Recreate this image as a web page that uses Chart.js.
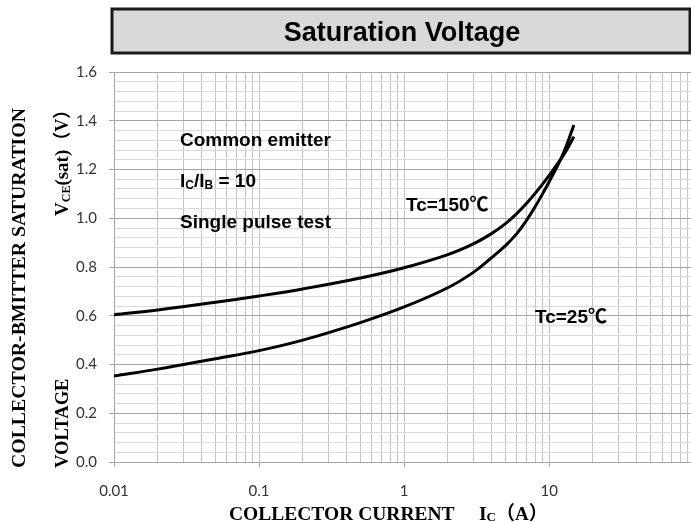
<!DOCTYPE html>
<html>
<head>
<meta charset="utf-8">
<script src="https://cdn.jsdelivr.net/npm/chart.js@4.4.1/dist/chart.umd.min.js"></script>
<style>
  body { margin: 0; background: #fff; }
  #wrap { width: 691px; height: 522px; }
</style>
</head>
<body>
<div id="wrap"><canvas id="myChart"></canvas></div>
<script>
// collector current (A) and VCE(sat) (V)
const currents = [0.01, 0.02, 0.05, 0.1, 0.2, 0.5, 1, 2, 3, 4, 5, 6, 7, 8, 9, 10, 11.8, 13.2, 14.8];
const vce150 = [0.604, 0.624, 0.655, 0.681, 0.710, 0.755, 0.797, 0.851, 0.895, 0.937, 0.978, 1.020, 1.062, 1.102, 1.140, 1.176, 1.235, 1.280, 1.335];
const vce25 = [0.353, 0.381, 0.424, 0.457, 0.500, 0.572, 0.636, 0.715, 0.778, 0.838, 0.888, 0.938, 0.992, 1.047, 1.100, 1.150, 1.232, 1.300, 1.383];
const seriesLabels = ['Tc=150℃', 'Tc=25℃'];

const xDecades = [0.01, 0.1, 1, 10];
const xTickLabels = ['0.01', '0.1', '1', '10'];
const xMax = 95;
const yTickLabels = ['0.0', '0.2', '0.4', '0.6', '0.8', '1.0', '1.2', '1.4', '1.6'];
const yMinorPerMajor = 5;

const SERIF = "'Liberation Serif', 'Noto Sans CJK SC', serif";
const SANS = "'Liberation Sans', 'Noto Sans CJK SC', sans-serif";

// grid values: 1..9 in every decade, 0.04 V steps on y
const xGrid = [];
xDecades.forEach(d => {
  for (let m = 1; m <= 9; m++) {
    if (m * d <= xMax) xGrid.push(+(m * d).toPrecision(3));
  }
});
const yGrid = [];
for (let i = 0; i <= (yTickLabels.length - 1) * yMinorPerMajor; i++) {
  yGrid.push(+(i * 0.2 / yMinorPerMajor).toFixed(3));
}

function runs(ctx, parts, x, y) {
  parts.forEach(p => {
    ctx.font = p.font;
    ctx.fillText(p.text, x, y + (p.dy || 0));
    x += ctx.measureText(p.text).width;
  });
}

const textPlugin = {
  id: 'datasheetText',
  afterDraw(chart) {
    const ctx = chart.ctx;
    ctx.save();
    // heading box
    ctx.fillStyle = '#d9d9d9';
    ctx.fillRect(112, 9, 578, 44);
    ctx.strokeStyle = '#1a1a1a';
    ctx.lineWidth = 3;
    ctx.strokeRect(112, 9, 578, 44);
    ctx.fillStyle = '#000';
    ctx.textAlign = 'center';
    ctx.textBaseline = 'alphabetic';
    ctx.font = 'bold 27px ' + SANS;
    ctx.fillText('Saturation Voltage', 402, 41);

    // notes inside the plot
    ctx.textAlign = 'left';
    ctx.font = 'bold 19px ' + SANS;
    ctx.fillText('Common emitter', 180, 146);
    runs(ctx, [
      { text: 'I', font: 'bold 19px ' + SANS },
      { text: 'C', font: 'bold 12px ' + SANS, dy: 2 },
      { text: '/I', font: 'bold 19px ' + SANS },
      { text: 'B', font: 'bold 12px ' + SANS, dy: 2 },
      { text: ' = 10', font: 'bold 19px ' + SANS }
    ], 180, 187);
    ctx.font = 'bold 19px ' + SANS;
    ctx.fillText('Single pulse test', 180, 228);
    ctx.fillText(seriesLabels[0], 406, 211);
    ctx.fillText(seriesLabels[1], 535, 323);

    // x axis title
    runs(ctx, [{ text: 'COLLECTOR CURRENT', font: 'bold 19.5px ' + SERIF }], 229, 520);
    runs(ctx, [
      { text: 'I', font: 'bold 19.5px ' + SERIF },
      { text: 'C', font: 'bold 13px ' + SERIF, dy: 1 },
      { text: '（A）', font: 'bold 19px ' + SERIF }
    ], 479, 520);

    // y axis title, two rotated columns
    ctx.save();
    ctx.translate(25, 468);
    ctx.rotate(-Math.PI / 2);
    runs(ctx, [{ text: 'COLLECTOR-BMITTER SATURATION', font: 'bold 19.8px ' + SERIF }], 0, 0);
    ctx.restore();

    ctx.save();
    ctx.translate(68, 468);
    ctx.rotate(-Math.PI / 2);
    runs(ctx, [{ text: 'VOLTAGE', font: 'bold 18.6px ' + SERIF }], 0, 0);
    ctx.restore();

    ctx.save();
    ctx.translate(68, 216);
    ctx.rotate(-Math.PI / 2);
    runs(ctx, [
      { text: 'V', font: 'bold 19px ' + SERIF },
      { text: 'CE', font: 'bold 12px ' + SERIF, dy: 2 },
      { text: '(sat)', font: 'bold 19px ' + SERIF },
      { text: '（V）', font: 'bold 18px ' + SERIF }
    ], 0, 0);
    ctx.restore();

    ctx.restore();
  }
};

const ctx = document.getElementById('myChart').getContext('2d');
const myChart = new Chart(ctx, {
  type: 'line',
  data: {
    datasets: [
      {
        label: seriesLabels[0],
        data: currents.map((c, i) => ({ x: c, y: vce150[i] })),
        borderColor: '#000',
        borderWidth: 3,
        pointRadius: 0,
        tension: 0.4
      },
      {
        label: seriesLabels[1],
        data: currents.map((c, i) => ({ x: c, y: vce25[i] })),
        borderColor: '#000',
        borderWidth: 3,
        pointRadius: 0,
        tension: 0.4
      }
    ]
  },
  options: {
    responsive: true,
    maintainAspectRatio: false,
    animation: false,
    layout: { padding: { top: 72, left: 0, right: 0, bottom: 0 } },
    plugins: {
      legend: { display: false },
      title: { display: false },
      tooltip: { enabled: false }
    },
    scales: {
      x: {
        type: 'logarithmic',
        min: 0.01,
        max: xMax,
        afterBuildTicks: scale => { scale.ticks = xGrid.map(v => ({ value: v })); },
        afterFit: scale => {
          scale.height = 60;
          scale.paddingLeft = 0;
          scale.paddingRight = 0;
        },
        border: { color: '#a6a6a6', width: 1 },
        grid: {
          color: '#c4c4c4',
          tickLength: 5,
          tickColor: c => xDecades.includes(c.tick && c.tick.value) ? '#a6a6a6' : 'rgba(0,0,0,0)'
        },
        ticks: {
          autoSkip: false,
          maxRotation: 0,
          padding: 15,
          color: '#333',
          font: { family: 'Lato', size: 15 },
          callback: value => {
            const k = xDecades.indexOf(value);
            return k >= 0 ? xTickLabels[k] : '';
          }
        }
      },
      y: {
        type: 'linear',
        min: 0,
        max: 1.6,
        afterBuildTicks: scale => { scale.ticks = yGrid.map(v => ({ value: v })); },
        afterFit: scale => { scale.width = 114; },
        border: { color: '#a6a6a6', width: 1 },
        grid: {
          color: c => c.index % yMinorPerMajor === 0 ? '#a6a6a6' : '#dadada',
          tickLength: 5,
          tickColor: c => c.index % yMinorPerMajor === 0 ? '#a6a6a6' : 'rgba(0,0,0,0)'
        },
        ticks: {
          autoSkip: false,
          padding: 12,
          color: '#333',
          font: { family: 'Lato', size: 15 },
          callback: (value, index) => index % yMinorPerMajor === 0 ? yTickLabels[index / yMinorPerMajor] : ''
        }
      }
    }
  },
  plugins: [textPlugin]
});
</script>
</body>
</html>
